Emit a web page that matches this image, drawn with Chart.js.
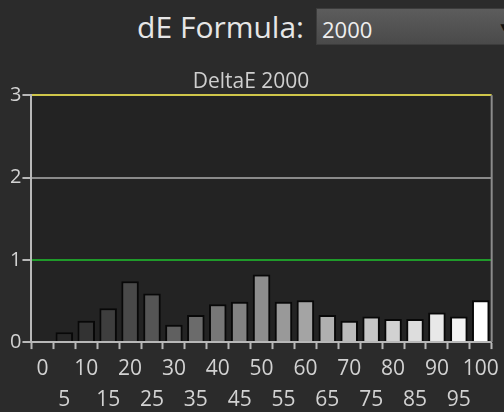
<!DOCTYPE html>
<html>
<head>
<meta charset="utf-8">
<script src="https://cdn.jsdelivr.net/npm/chart.js@4/dist/chart.umd.min.js"></script>
<style>
    html, body { margin: 0; padding: 0; background: #2b2b2b; width: 504px; height: 412px; overflow: hidden; }
    .formula { position: absolute; left: 0; top: 8px; width: 304px; height: 37px; line-height: 37px; text-align: right;
        font-family: "Open Sans", sans-serif; font-size: 30px; color: #e6e6e6; }
    .select { position: absolute; left: 316px; top: 8px; width: 210px; height: 37px; box-sizing: border-box;
        border: 1px solid #3c3c3c; background: linear-gradient(#5c5c5c, #4a4a4a);
        font-family: "Open Sans", sans-serif; font-size: 22px; line-height: 40px; color: #eeeeee; padding-left: 5px; }
    .select .arrow { position: absolute; left: 181px; top: -2px; font-size: 12px; color: #111; }
    .wrap { position: absolute; left: 0; top: 62px; width: 504px; height: 358px; }
</style>
</head>
<body>
<div class="formula">dE Formula:</div>
<div class="select">2000<span class="arrow">&#9660;</span></div>
<div class="wrap"><canvas id="deltaChart"></canvas></div>
<script>
let categories = ['0', '5', '10', '15', '20', '25', '30', '35', '40', '45', '50',
    '55', '60', '65', '70', '75', '80', '85', '90', '95', '100'];
let deltaE = [0, 0.12, 0.26, 0.41, 0.74, 0.59, 0.21, 0.33, 0.46, 0.49, 0.82,
    0.49, 0.51, 0.33, 0.26, 0.31, 0.28, 0.28, 0.36, 0.31, 0.51];
let yTicks = [0, 1, 2, 3];

// grey level of a bar follows the stimulus level, with a glassy vertical shade
let barFill = function (ctx) {
    let chart = ctx.chart;
    let area = chart.chartArea;
    if (!area || ctx.type !== 'data') return '#888';
    let i = ctx.dataIndex;
    let g = Math.round(28 + 227 * i / 20);
    let el = chart.getDatasetMeta(0).data[i];
    let top = el ? el.y : area.top;
    let bottom = el ? el.base : area.bottom;
    if (!isFinite(top) || !isFinite(bottom) || bottom - top < 1) return 'rgb(' + g + ',' + g + ',' + g + ')';
    let c = function (d) { let v = Math.max(0, Math.min(255, g + d)); return 'rgb(' + v + ',' + v + ',' + v + ')'; };
    let grad = chart.ctx.createLinearGradient(0, top, 0, bottom);
    grad.addColorStop(0, c(10));
    grad.addColorStop(0.12, c(28));
    grad.addColorStop(0.5, c(0));
    grad.addColorStop(1, c(-25));
    return grad;
};

let plotFrame = {
    id: 'plotFrame',
    beforeDraw: function (chart) {
        let a = chart.chartArea;
        let ctx = chart.ctx;
        ctx.save();
        ctx.fillStyle = '#232323';
        ctx.fillRect(a.left, a.top, a.right - a.left, a.bottom - a.top);
        ctx.restore();
    },
    afterDraw: function (chart) {
        let a = chart.chartArea;
        let ctx = chart.ctx;
        ctx.save();
        ctx.strokeStyle = '#8c8c8c';
        ctx.lineWidth = 2;
        ctx.beginPath();
        ctx.moveTo(a.right, a.top);
        ctx.lineTo(a.right, a.bottom);
        ctx.stroke();
        ctx.restore();
    }
};

let lineColor = function (v) {
    if (v === 3) return '#cfc64a';
    if (v === 1) return '#1f9a2a';
    if (v === 2) return '#8a8a8a';
    return 'rgba(0,0,0,0)';
};

new Chart(document.getElementById('deltaChart'), {
    type: 'bar',
    data: {
        labels: categories,
        datasets: [{
            data: deltaE,
            backgroundColor: barFill,
            borderColor: '#080808',
            borderWidth: 2,
            barPercentage: 0.8,
            categoryPercentage: 1
        }]
    },
    options: {
        responsive: true,
        maintainAspectRatio: false,
        animation: false,
        layout: { padding: { left: 9, right: 11, top: 0, bottom: 0 } },
        plugins: {
            legend: { display: false },
            tooltip: { enabled: false },
            title: {
                display: true,
                text: 'DeltaE 2000',
                color: '#cfcfcf',
                font: { family: '"Open Sans", sans-serif', size: 21, weight: 'normal' },
                padding: { top: 7, bottom: 1 }
            }
        },
        scales: {
            x: {
                grid: { drawOnChartArea: false, drawTicks: true, tickLength: 7, tickColor: '#b8b8b8', tickWidth: 2, offset: true },
                border: { color: '#b8b8b8', width: 2 },
                ticks: {
                    autoSkip: false,
                    maxRotation: 0,
                    padding: 5,
                    color: '#d2d2d2',
                    font: { family: '"Open Sans", sans-serif', size: 21, lineHeight: 1.45 },
                    callback: function (value, index) {
                        let lab = categories[index];
                        return index % 2 === 0 ? [lab, ''] : ['', lab];
                    }
                }
            },
            y: {
                min: 0,
                max: 3,
                afterBuildTicks: function (axis) {
                    axis.ticks = yTicks.map(function (v) { return { value: v }; });
                },
                grid: {
                    color: function (ctx) { return lineColor(ctx.tick.value); },
                    lineWidth: 2,
                    tickColor: '#b8b8b8',
                    tickLength: 9,
                    drawTicks: true
                },
                border: { color: '#b8b8b8', width: 2 },
                ticks: {
                    padding: 1,
                    color: '#d2d2d2',
                    font: { family: '"Open Sans", sans-serif', size: 20 }
                }
            }
        }
    },
    plugins: [plotFrame]
});
</script>
</body>
</html>
